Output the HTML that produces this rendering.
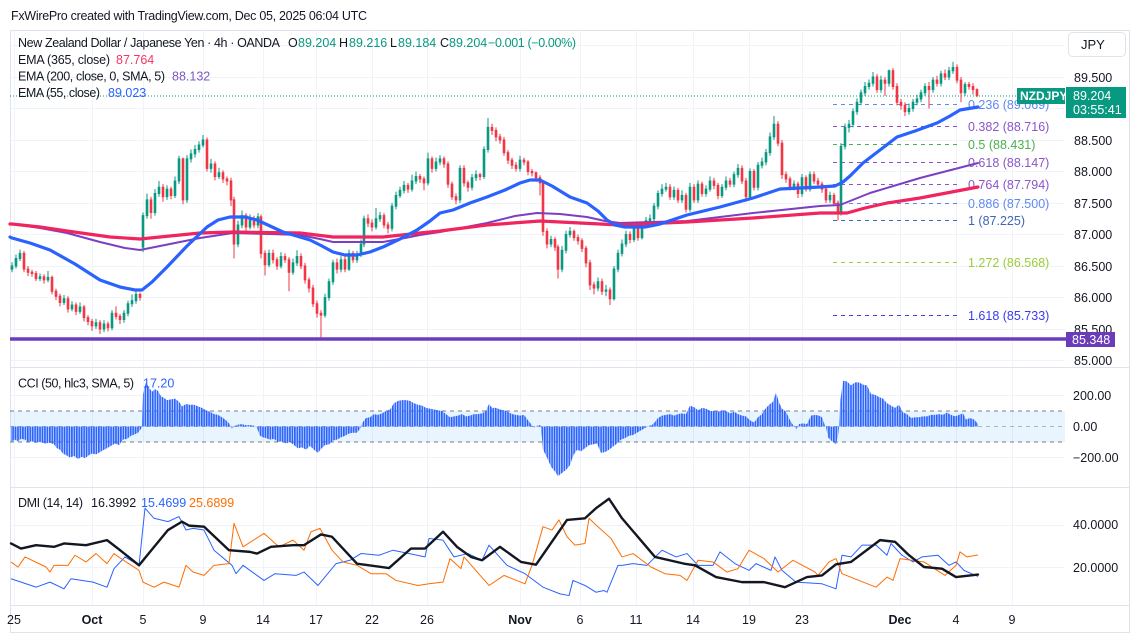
<!DOCTYPE html>
<html><head><meta charset="utf-8">
<style>
html,body{margin:0;padding:0;background:#fff;}
svg{display:block;font-family:"Liberation Sans",Arial,sans-serif;}
</style></head><body>
<svg width="1130" height="637" viewBox="0 0 1130 637" xmlns="http://www.w3.org/2000/svg">
<defs>
<pattern id="bars" x="0" y="0" width="2.45" height="100" patternUnits="userSpaceOnUse"><rect x="0" y="0" width="1.75" height="100" fill="#2962ff"/></pattern>
</defs>
<rect width="1130" height="637" fill="#fff"/>
<text x="11" y="20" font-size="12.5" fill="#131722" textLength="356" lengthAdjust="spacing">FxWirePro created with TradingView.com, Dec 05, 2025 06:04 UTC</text>

<!-- vertical grid -->
<g stroke="#f0f3fa" stroke-width="1">
<line x1="14.5" y1="31" x2="14.5" y2="605"/><line x1="92.5" y1="31" x2="92.5" y2="605"/>
<line x1="143.5" y1="31" x2="143.5" y2="605"/><line x1="203.5" y1="31" x2="203.5" y2="605"/>
<line x1="263.5" y1="31" x2="263.5" y2="605"/><line x1="316.5" y1="31" x2="316.5" y2="605"/>
<line x1="372.5" y1="31" x2="372.5" y2="605"/><line x1="427.5" y1="31" x2="427.5" y2="605"/>
<line x1="520.5" y1="31" x2="520.5" y2="605"/><line x1="580.5" y1="31" x2="580.5" y2="605"/>
<line x1="636.5" y1="31" x2="636.5" y2="605"/><line x1="693.5" y1="31" x2="693.5" y2="605"/>
<line x1="749.5" y1="31" x2="749.5" y2="605"/><line x1="802.5" y1="31" x2="802.5" y2="605"/>
<line x1="900.5" y1="31" x2="900.5" y2="605"/><line x1="956.5" y1="31" x2="956.5" y2="605"/>
<line x1="1012.5" y1="31" x2="1012.5" y2="605"/>
</g>
<!-- horizontal grid -->
<g stroke="#f0f3fa" stroke-width="1">
<line x1="10" y1="45.5" x2="1065" y2="45.5"/><line x1="10" y1="77.5" x2="1065" y2="77.5"/>
<line x1="10" y1="108.5" x2="1065" y2="108.5"/><line x1="10" y1="140.5" x2="1065" y2="140.5"/>
<line x1="10" y1="171.5" x2="1065" y2="171.5"/><line x1="10" y1="203.5" x2="1065" y2="203.5"/>
<line x1="10" y1="234.5" x2="1065" y2="234.5"/><line x1="10" y1="266.5" x2="1065" y2="266.5"/>
<line x1="10" y1="297.5" x2="1065" y2="297.5"/><line x1="10" y1="329.5" x2="1065" y2="329.5"/>
<line x1="10" y1="360.5" x2="1065" y2="360.5"/>
<line x1="10" y1="395.5" x2="1065" y2="395.5"/><line x1="10" y1="457.5" x2="1065" y2="457.5"/>
<line x1="10" y1="525.5" x2="1065" y2="525.5"/><line x1="10" y1="567.5" x2="1065" y2="567.5"/>
</g>
<!-- frame -->
<g stroke="#e0e3eb" stroke-width="1" fill="none">
<line x1="10" y1="30.5" x2="1130" y2="30.5"/>
<line x1="10.5" y1="30" x2="10.5" y2="633"/>
<line x1="10" y1="367.5" x2="1130" y2="367.5"/>
<line x1="10" y1="487.5" x2="1130" y2="487.5"/>
<line x1="10" y1="605.5" x2="1130" y2="605.5"/>
<line x1="10" y1="632.5" x2="1130" y2="632.5"/>
<line x1="1129.5" y1="30" x2="1129.5" y2="633"/>
</g>

<!-- CCI band -->
<rect x="10" y="411" width="1055" height="31" fill="#2196f3" fill-opacity="0.1"/>
<g stroke-width="1" stroke-dasharray="4,4" fill="none">
<line x1="10" y1="411" x2="1065" y2="411" stroke="#787b86"/>
<line x1="10" y1="426.5" x2="1065" y2="426.5" stroke="#b2b5be"/>
<line x1="10" y1="442" x2="1065" y2="442" stroke="#787b86"/>
</g>

<!-- Fib levels -->
<g stroke-width="1" stroke-dasharray="4,4" fill="none">
<line x1="833" y1="104.5" x2="960" y2="104.5" stroke="#5d8af2"/>
<line x1="833" y1="126.5" x2="960" y2="126.5" stroke="#8a55c9"/>
<line x1="833" y1="144.5" x2="960" y2="144.5" stroke="#4caf50"/>
<line x1="833" y1="162.5" x2="960" y2="162.5" stroke="#8a55c9"/>
<line x1="833" y1="184.5" x2="960" y2="184.5" stroke="#8a55c9"/>
<line x1="833" y1="203.5" x2="960" y2="203.5" stroke="#5d8af2"/>
<line x1="833" y1="220.5" x2="960" y2="220.5" stroke="#3f66b4"/>
<line x1="833" y1="262.5" x2="960" y2="262.5" stroke="#9bcc3a"/>
<line x1="833" y1="315.5" x2="960" y2="315.5" stroke="#3a3af0"/>
</g>
<g font-size="12.5">
<text x="968" y="109" fill="#5d8af2">0.236 (89.069)</text>
<text x="968" y="131" fill="#8a55c9">0.382 (88.716)</text>
<text x="968" y="149" fill="#4caf50">0.5 (88.431)</text>
<text x="968" y="167" fill="#8a55c9">0.618 (88.147)</text>
<text x="968" y="189" fill="#8a55c9">0.764 (87.794)</text>
<text x="968" y="208" fill="#5d8af2">0.886 (87.500)</text>
<text x="968" y="225" fill="#3f66b4">1 (87.225)</text>
<text x="968" y="267" fill="#9bcc3a">1.272 (86.568)</text>
<text x="968" y="320" fill="#3a3af0">1.618 (85.733)</text>
</g>

<!-- Candles (price units) -->
<g transform="matrix(1,0,0,-63,0,5715.5)">
<path fill="#089981" stroke="#089981" stroke-width="1" vector-effect="non-scaling-stroke" d="
M11.2 86.45h1.6V86.5h-1.6zM12 86.56V86.4
M15.2 86.5h1.6V86.62h-1.6zM16 86.68V86.46
M19.2 86.62h1.6V86.7h-1.6zM20 86.76V86.58
M39.2 86.3h1.6V86.33h-1.6zM40 86.38V86.26
M47.2 86.28h1.6V86.32h-1.6zM48 86.42V86.24
M63.2 85.92h1.6V85.98h-1.6zM64 86.04V85.88
M71.2 85.82h1.6V85.88h-1.6zM72 85.94V85.78
M79.2 85.78h1.6V85.85h-1.6zM80 85.92V85.74
M95.2 85.55h1.6V85.6h-1.6zM96 85.66V85.5
M103.2 85.5h1.6V85.58h-1.6zM104 85.64V85.45
M111.2 85.52h1.6V85.75h-1.6zM112 85.8V85.48
M123.2 85.65h1.6V85.75h-1.6zM124 85.8V85.6
M127.2 85.75h1.6V85.9h-1.6zM128 85.95V85.7
M131.2 85.9h1.6V85.95h-1.6zM132 86.05V85.85
M135.2 85.95h1.6V86.05h-1.6zM136 86.1V85.9
M142.2 86.8h1.6V87.3h-1.6zM143 87.35V86.72
M146.2 87.3h1.6V87.55h-1.6zM147 87.65V87.25
M154.2 87.35h1.6V87.65h-1.6zM155 87.72V87.3
M158.2 87.65h1.6V87.75h-1.6zM159 87.85V87.6
M166.2 87.6h1.6V87.72h-1.6zM167 87.78V87.55
M174.2 87.62h1.6V87.85h-1.6zM175 87.92V87.58
M178.2 87.85h1.6V88.2h-1.6zM179 88.25V87.8
M186.2 87.55h1.6V88.2h-1.6zM187 88.26V87.5
M190.2 88.2h1.6V88.28h-1.6zM191 88.35V88.14
M194.2 88.28h1.6V88.35h-1.6zM195 88.42V88.22
M198.2 88.35h1.6V88.42h-1.6zM199 88.48V88.3
M202.2 88.42h1.6V88.5h-1.6zM203 88.58V88.38
M210.2 88.05h1.6V88.12h-1.6zM211 88.2V87.98
M218.2 87.92h1.6V87.98h-1.6zM219 88.06V87.88
M237.2 86.85h1.6V87.15h-1.6zM238 87.22V86.8
M241.2 87.15h1.6V87.3h-1.6zM242 87.38V87.1
M249.2 87.12h1.6V87.25h-1.6zM250 87.32V87.08
M257.2 87.15h1.6V87.28h-1.6zM258 87.34V87.1
M268.2 86.52h1.6V86.7h-1.6zM269 86.76V86.48
M280.2 86.5h1.6V86.65h-1.6zM281 86.72V86.46
M292.2 86.4h1.6V86.55h-1.6zM293 86.62V86.36
M296.2 86.55h1.6V86.65h-1.6zM297 86.75V86.5
M324.2 85.72h1.6V86h-1.6zM325 86.06V85.68
M328.2 86h1.6V86.25h-1.6zM329 86.3V85.95
M332.2 86.25h1.6V86.55h-1.6zM333 86.6V86.2
M340.2 86.45h1.6V86.6h-1.6zM341 86.66V86.4
M348.2 86.45h1.6V86.7h-1.6zM349 86.76V86.42
M356.2 86.6h1.6V86.68h-1.6zM357 86.74V86.55
M360.2 86.68h1.6V86.85h-1.6zM361 86.92V86.64
M363.2 86.85h1.6V87.25h-1.6zM364 87.3V86.8
M375.2 87.12h1.6V87.25h-1.6zM376 87.42V87.08
M379.2 87.25h1.6V87.3h-1.6zM380 87.36V87.2
M391.2 87.1h1.6V87.45h-1.6zM392 87.5V87.05
M395.2 87.45h1.6V87.62h-1.6zM396 87.68V87.4
M399.2 87.62h1.6V87.7h-1.6zM400 87.76V87.58
M403.2 87.7h1.6V87.78h-1.6zM404 87.85V87.65
M411.2 87.72h1.6V87.85h-1.6zM412 87.95V87.68
M415.2 87.85h1.6V87.92h-1.6zM416 88V87.8
M427.2 87.82h1.6V88.2h-1.6zM428 88.3V87.78
M435.2 88.05h1.6V88.15h-1.6zM436 88.22V88
M439.2 88.15h1.6V88.2h-1.6zM440 88.26V88.1
M459.2 87.55h1.6V88.05h-1.6zM460 88.1V87.5
M471.2 87.75h1.6V87.9h-1.6zM472 87.96V87.7
M475.2 87.9h1.6V87.95h-1.6zM476 88.02V87.85
M483.2 87.92h1.6V88.35h-1.6zM484 88.4V87.88
M487.2 88.35h1.6V88.7h-1.6zM488 88.85V88.3
M519.2 88.05h1.6V88.18h-1.6zM520 88.25V88
M550.2 86.85h1.6V86.92h-1.6zM551 86.98V86.8
M561.2 86.45h1.6V86.75h-1.6zM562 86.82V86.4
M565.2 86.75h1.6V87h-1.6zM566 87.06V86.7
M569.2 87h1.6V87.05h-1.6zM570 87.12V86.95
M597.2 86.15h1.6V86.25h-1.6zM598 86.32V86.1
M605.2 86.1h1.6V86.12h-1.6zM606 86.2V86.02
M613.2 85.98h1.6V86.45h-1.6zM614 86.5V85.95
M617.2 86.45h1.6V86.7h-1.6zM618 86.76V86.4
M621.2 86.7h1.6V86.85h-1.6zM622 86.92V86.65
M625.2 86.85h1.6V87h-1.6zM626 87.06V86.8
M633.2 86.92h1.6V87.1h-1.6zM634 87.16V86.88
M641.2 86.95h1.6V87.15h-1.6zM642 87.2V86.92
M645.2 87.15h1.6V87.22h-1.6zM646 87.28V87.1
M649.2 87.22h1.6V87.25h-1.6zM650 87.32V87.18
M653.2 87.25h1.6V87.45h-1.6zM654 87.5V87.2
M657.2 87.45h1.6V87.65h-1.6zM658 87.7V87.4
M661.2 87.65h1.6V87.72h-1.6zM662 87.8V87.6
M665.2 87.72h1.6V87.75h-1.6zM666 87.82V87.68
M673.2 87.6h1.6V87.7h-1.6zM674 87.76V87.55
M681.2 87.55h1.6V87.62h-1.6zM682 87.7V87.5
M689.2 87.4h1.6V87.75h-1.6zM690 87.82V87.36
M697.2 87.55h1.6V87.8h-1.6zM698 87.86V87.5
M705.2 87.65h1.6V87.72h-1.6zM706 87.78V87.6
M709.2 87.72h1.6V87.85h-1.6zM710 87.92V87.68
M721.2 87.62h1.6V87.75h-1.6zM722 87.8V87.58
M725.2 87.75h1.6V87.85h-1.6zM726 87.92V87.7
M733.2 87.8h1.6V87.95h-1.6zM734 88V87.75
M737.2 87.95h1.6V88.05h-1.6zM738 88.12V87.9
M749.2 87.6h1.6V88h-1.6zM750 88.05V87.55
M757.2 87.75h1.6V88.1h-1.6zM758 88.15V87.7
M761.2 88.1h1.6V88.15h-1.6zM762 88.22V88.05
M765.2 88.15h1.6V88.3h-1.6zM766 88.36V88.1
M769.2 88.3h1.6V88.55h-1.6zM770 88.62V88.25
M773.2 88.55h1.6V88.75h-1.6zM774 88.88V88.5
M793.2 87.75h1.6V87.8h-1.6zM794 87.86V87.7
M801.2 87.65h1.6V87.9h-1.6zM802 87.96V87.6
M809.2 87.72h1.6V87.95h-1.6zM810 88V87.68
M829.2 87.55h1.6V87.62h-1.6zM830 87.68V87.5
M840.2 87.35h1.6V88.4h-1.6zM841 88.45V87.3
M844.2 88.4h1.6V88.7h-1.6zM845 88.76V88.35
M848.2 88.7h1.6V88.75h-1.6zM849 88.82V88.62
M852.2 88.75h1.6V88.95h-1.6zM853 89V88.7
M856.2 88.95h1.6V89.1h-1.6zM857 89.16V88.9
M860.2 89.1h1.6V89.25h-1.6zM861 89.3V89.05
M864.2 89.25h1.6V89.35h-1.6zM865 89.42V89.2
M868.2 89.35h1.6V89.4h-1.6zM869 89.46V89.3
M872.2 89.4h1.6V89.5h-1.6zM873 89.58V89.35
M880.2 89.3h1.6V89.45h-1.6zM881 89.52V89.25
M888.2 89.4h1.6V89.6h-1.6zM889 89.62V89.35
M908.2 88.95h1.6V89h-1.6zM909 89.08V88.9
M912.2 89h1.6V89.1h-1.6zM913 89.15V88.95
M916.2 89.1h1.6V89.15h-1.6zM917 89.22V89.05
M920.2 89.15h1.6V89.25h-1.6zM921 89.3V89.1
M924.2 89.25h1.6V89.35h-1.6zM925 89.4V89.2
M932.2 89.3h1.6V89.45h-1.6zM933 89.5V89.25
M940.2 89.4h1.6V89.55h-1.6zM941 89.6V89.35
M948.2 89.5h1.6V89.6h-1.6zM949 89.66V89.45
M952.2 89.6h1.6V89.65h-1.6zM953 89.74V89.55
M964.2 89.25h1.6V89.38h-1.6zM965 89.42V89.2"/>
<path fill="#f23645" stroke="#f23645" stroke-width="1" vector-effect="non-scaling-stroke" d="
M23.2 86.7h1.6V86.45h-1.6zM24 86.74V86.4
M27.2 86.45h1.6V86.4h-1.6zM28 86.5V86.34
M31.2 86.4h1.6V86.38h-1.6zM32 86.44V86.33
M35.2 86.38h1.6V86.3h-1.6zM36 86.42V86.26
M43.2 86.33h1.6V86.28h-1.6zM44 86.37V86.22
M51.2 86.32h1.6V86.1h-1.6zM52 86.35V86.05
M55.2 86.1h1.6V86.02h-1.6zM56 86.14V85.96
M59.2 86.02h1.6V85.92h-1.6zM60 86.06V85.86
M67.2 85.98h1.6V85.82h-1.6zM68 86.02V85.76
M75.2 85.88h1.6V85.78h-1.6zM76 85.92V85.72
M83.2 85.85h1.6V85.68h-1.6zM84 85.88V85.62
M87.2 85.68h1.6V85.62h-1.6zM88 85.72V85.56
M91.2 85.62h1.6V85.55h-1.6zM92 85.66V85.47
M99.2 85.6h1.6V85.5h-1.6zM100 85.64V85.42
M107.2 85.58h1.6V85.52h-1.6zM108 85.62V85.46
M115.2 85.75h1.6V85.7h-1.6zM116 85.86V85.65
M119.2 85.7h1.6V85.65h-1.6zM120 85.74V85.58
M139.2 86.05h1.6V86h-1.6zM140 86.08V85.95
M150.2 87.55h1.6V87.35h-1.6zM151 87.6V87.25
M162.2 87.75h1.6V87.6h-1.6zM163 87.8V87.52
M170.2 87.72h1.6V87.62h-1.6zM171 87.76V87.56
M182.2 88.2h1.6V87.55h-1.6zM183 88.22V87.48
M206.2 88.5h1.6V88.05h-1.6zM207 88.54V88
M214.2 88.12h1.6V87.92h-1.6zM215 88.16V87.86
M222.2 87.98h1.6V87.88h-1.6zM223 88.02V87.82
M226.2 87.88h1.6V87.85h-1.6zM227 87.92V87.78
M230.2 87.85h1.6V87.55h-1.6zM231 87.9V87.45
M233.2 87.55h1.6V86.85h-1.6zM234 87.6V86.62
M245.2 87.3h1.6V87.12h-1.6zM246 87.34V87.06
M253.2 87.25h1.6V87.15h-1.6zM254 87.3V87.1
M260.2 87.28h1.6V86.7h-1.6zM261 87.32V86.62
M264.2 86.7h1.6V86.52h-1.6zM265 86.75V86.35
M272.2 86.7h1.6V86.6h-1.6zM273 86.76V86.54
M276.2 86.6h1.6V86.5h-1.6zM277 86.64V86.44
M284.2 86.65h1.6V86.6h-1.6zM285 86.7V86.55
M288.2 86.6h1.6V86.4h-1.6zM289 86.64V86.1
M300.2 86.65h1.6V86.5h-1.6zM301 86.7V86.45
M304.2 86.5h1.6V86.28h-1.6zM305 86.55V86.22
M308.2 86.28h1.6V86.15h-1.6zM309 86.32V86.08
M312.2 86.15h1.6V85.9h-1.6zM313 86.2V85.85
M316.2 85.9h1.6V85.75h-1.6zM317 85.95V85.68
M320.2 85.75h1.6V85.72h-1.6zM321 85.8V85.35
M336.2 86.55h1.6V86.45h-1.6zM337 86.62V86.38
M344.2 86.6h1.6V86.45h-1.6zM345 86.65V86.4
M352.2 86.7h1.6V86.6h-1.6zM353 86.74V86.55
M367.2 87.25h1.6V87.18h-1.6zM368 87.32V87.12
M371.2 87.18h1.6V87.12h-1.6zM372 87.24V87.05
M383.2 87.3h1.6V87.15h-1.6zM384 87.34V87.1
M387.2 87.15h1.6V87.1h-1.6zM388 87.2V87.02
M407.2 87.78h1.6V87.72h-1.6zM408 87.82V87.66
M419.2 87.92h1.6V87.88h-1.6zM420 87.96V87.82
M423.2 87.88h1.6V87.82h-1.6zM424 87.92V87.7
M431.2 88.2h1.6V88.05h-1.6zM432 88.24V87.98
M443.2 88.2h1.6V88.12h-1.6zM444 88.24V88.06
M447.2 88.12h1.6V87.8h-1.6zM448 88.16V87.74
M451.2 87.8h1.6V87.6h-1.6zM452 87.84V87.55
M455.2 87.6h1.6V87.55h-1.6zM456 87.65V87.48
M463.2 88.05h1.6V87.82h-1.6zM464 88.1V87.76
M467.2 87.82h1.6V87.75h-1.6zM468 87.86V87.68
M479.2 87.95h1.6V87.92h-1.6zM480 87.98V87.86
M491.2 88.7h1.6V88.65h-1.6zM492 88.76V88.58
M495.2 88.65h1.6V88.55h-1.6zM496 88.7V88.48
M499.2 88.55h1.6V88.5h-1.6zM500 88.6V88.44
M503.2 88.5h1.6V88.3h-1.6zM504 88.55V88.25
M507.2 88.3h1.6V88.18h-1.6zM508 88.34V88.12
M511.2 88.18h1.6V88.1h-1.6zM512 88.22V88.04
M515.2 88.1h1.6V88.05h-1.6zM516 88.15V88
M523.2 88.18h1.6V88.15h-1.6zM524 88.22V88.1
M527.2 88.15h1.6V88h-1.6zM528 88.18V87.94
M531.2 88h1.6V87.98h-1.6zM532 88.04V87.92
M535.2 87.98h1.6V87.9h-1.6zM536 88V87.84
M539.2 87.9h1.6V87.82h-1.6zM540 87.94V87.62
M542.2 87.82h1.6V87.05h-1.6zM543 87.86V86.98
M546.2 87.05h1.6V86.85h-1.6zM547 87.1V86.78
M554.2 86.92h1.6V86.8h-1.6zM555 86.96V86.74
M557.2 86.8h1.6V86.45h-1.6zM558 86.84V86.3
M573.2 87.05h1.6V86.95h-1.6zM574 87.08V86.9
M577.2 86.95h1.6V86.9h-1.6zM578 87V86.84
M581.2 86.9h1.6V86.78h-1.6zM582 86.94V86.72
M585.2 86.78h1.6V86.55h-1.6zM586 86.82V86.48
M589.2 86.55h1.6V86.2h-1.6zM590 86.6V86.12
M593.2 86.2h1.6V86.15h-1.6zM594 86.25V86.05
M601.2 86.25h1.6V86.1h-1.6zM602 86.3V86.04
M609.2 86.12h1.6V85.98h-1.6zM610 86.16V85.88
M629.2 87h1.6V86.92h-1.6zM630 87.05V86.86
M637.2 87.1h1.6V86.95h-1.6zM638 87.14V86.9
M669.2 87.75h1.6V87.6h-1.6zM670 87.8V87.55
M677.2 87.7h1.6V87.55h-1.6zM678 87.74V87.5
M685.2 87.62h1.6V87.4h-1.6zM686 87.66V87.35
M693.2 87.75h1.6V87.55h-1.6zM694 87.8V87.5
M701.2 87.8h1.6V87.65h-1.6zM702 87.84V87.6
M713.2 87.85h1.6V87.78h-1.6zM714 87.9V87.72
M717.2 87.78h1.6V87.62h-1.6zM718 87.82V87.56
M729.2 87.85h1.6V87.8h-1.6zM730 87.9V87.75
M741.2 88.05h1.6V87.85h-1.6zM742 88.1V87.8
M745.2 87.85h1.6V87.6h-1.6zM746 87.9V87.52
M753.2 88h1.6V87.75h-1.6zM754 88.04V87.7
M777.2 88.75h1.6V88.45h-1.6zM778 88.8V88.4
M781.2 88.45h1.6V87.95h-1.6zM782 88.5V87.88
M785.2 87.95h1.6V87.88h-1.6zM786 88V87.82
M789.2 87.88h1.6V87.75h-1.6zM790 87.92V87.7
M797.2 87.8h1.6V87.65h-1.6zM798 87.84V87.58
M805.2 87.9h1.6V87.72h-1.6zM806 87.94V87.68
M813.2 87.95h1.6V87.85h-1.6zM814 88V87.8
M817.2 87.85h1.6V87.8h-1.6zM818 87.9V87.75
M821.2 87.8h1.6V87.72h-1.6zM822 87.84V87.66
M825.2 87.72h1.6V87.55h-1.6zM826 87.76V87.5
M833.2 87.62h1.6V87.5h-1.6zM834 87.66V87.45
M837.2 87.5h1.6V87.35h-1.6zM838 87.54V87.22
M876.2 89.5h1.6V89.3h-1.6zM877 89.55V89.25
M884.2 89.45h1.6V89.4h-1.6zM885 89.5V89.2
M892.2 89.6h1.6V89.35h-1.6zM893 89.64V89.3
M896.2 89.35h1.6V89.1h-1.6zM897 89.4V89.05
M900.2 89.1h1.6V89.05h-1.6zM901 89.15V88.98
M904.2 89.05h1.6V88.95h-1.6zM905 89.1V88.88
M928.2 89.35h1.6V89.3h-1.6zM929 89.42V89
M936.2 89.45h1.6V89.4h-1.6zM937 89.52V89.35
M944.2 89.55h1.6V89.5h-1.6zM945 89.62V89.45
M956.2 89.65h1.6V89.45h-1.6zM957 89.7V89.4
M960.2 89.45h1.6V89.25h-1.6zM961 89.5V89.1
M968.2 89.38h1.6V89.35h-1.6zM969 89.42V89.3
M972.2 89.35h1.6V89.3h-1.6zM973 89.4V89.22
M976.2 89.3h1.6V89.204h-1.6zM977 89.32V89.18"/>
</g>

<!-- CCI histogram (value units) -->
<g transform="matrix(1,0,0,-0.155,0,426.5)">
<polygon fill="url(#bars)" points="11,0 11,-100 15,-85 18,-95 21,-80 25,-85 28,-100 32,-95 35,-105 40,-100 45,-110 50,-105 54,-115 57,-140 60,-150 63,-175 66,-185 70,-200 74,-190 78,-210 82,-195 85,-205 89,-185 92,-175 96,-180 100,-165 104,-150 107,-140 111,-125 115,-110 119,-120 123,-85 127,-80 131,-60 135,-50 138,-40 141,-15 142,0 143,210 146,285 149,250 152,225 155,240 158,230 161,195 164,185 167,170 171,175 175,180 179,160 182,130 186,145 190,140 194,140 198,130 202,120 206,105 210,95 214,80 218,75 222,60 226,40 229,20 231,0 232,-15 234,0 235,5 238,12 242,15 246,8 250,10 254,5 256,0 257,-10 260,-60 263,-70 266,-75 270,-85 274,-80 278,-100 282,-95 286,-110 290,-100 294,-120 298,-140 302,-135 306,-150 310,-125 314,-150 318,-170 321,-145 325,-120 329,-115 333,-90 337,-85 341,-70 345,-60 349,-45 353,-40 357,-40 360,-15 361,0 363,30 366,55 370,60 374,80 378,75 382,85 386,100 390,110 394,150 398,165 402,170 406,170 410,165 414,150 418,140 422,135 426,120 430,115 434,110 438,105 442,100 446,80 450,60 454,65 458,70 462,80 466,65 470,70 474,80 478,80 482,85 486,100 489,145 492,120 496,120 500,110 504,105 508,95 512,80 516,75 520,70 524,75 528,40 531,15 533,0 534,-10 535,0 537,5 540,10 541,0 543,-150 547,-200 551,-260 555,-290 558,-320 562,-300 566,-280 570,-250 573,-190 577,-150 581,-160 585,-140 589,-120 593,-115 597,-110 601,-170 605,-165 609,-150 613,-130 617,-110 621,-85 625,-75 629,-60 633,-55 637,-40 641,-25 645,-10 648,0 649,5 652,10 655,30 658,55 662,70 666,75 670,80 674,70 678,80 682,85 686,80 690,135 694,125 698,105 702,120 706,115 710,100 714,100 718,95 722,105 726,100 730,85 734,95 738,80 742,70 746,65 750,40 754,25 758,60 762,80 766,120 770,145 773,160 776,220 779,155 782,115 786,95 790,40 793,10 795,0 796,-20 798,0 799,15 803,20 807,15 811,70 815,75 819,70 822,60 825,5 826,0 828,-70 832,-95 836,-115 838,-60 839,0 840,150 843,295 847,290 851,265 855,285 859,285 863,270 867,265 871,210 875,205 879,190 883,180 887,150 891,135 895,120 899,140 903,90 907,80 911,55 915,60 919,60 923,65 927,65 931,75 935,75 939,80 943,75 947,90 951,75 955,65 959,75 963,85 966,45 970,55 974,45 978,17 978,0"/>
</g>

<!-- EMAs -->
<polyline fill="none" stroke="#7b3fc4" stroke-width="2" stroke-linejoin="round" stroke-linecap="round" points="10,224 12,224 40,228 67,233 100,242 125,248 140,250 160,246 200,238 233,233 270,234 300,235 320,239 333,242 383,242 405,238 420,235 440,232 487,223 515,216 537,213 560,214 587,217 605,221 620,223 687,221 753,213 820,206 840,205 855,199 870,193 920,178 978,163"/>
<polyline fill="none" stroke="#f0245e" stroke-width="3.2" stroke-linejoin="round" stroke-linecap="round" points="10,224 12,224 40,227 67,231 110,237 140,239 170,236 200,233 233,232 300,233 333,237 383,237 420,233 440,231 487,225 540,221 580,223 620,225 687,222 753,218 820,213 847,213 865,208 887,203 920,198 978,187"/>
<polyline fill="none" stroke="#2962ff" stroke-width="3.2" stroke-linejoin="round" stroke-linecap="round" points="10,237 12,238 30,243 50,250 75,264 100,280 120,287 135,290 142,290 152,282 167,267 187,246 207,227 218,220 230,217 245,217 257,220 270,226 283,232 310,240 322,246 333,252 345,255 357,255 370,252 383,247 400,239 417,230 430,221 440,213 453,210 470,203 487,197 505,190 520,183 530,180 540,180 552,186 570,197 587,203 598,211 607,220 615,225 625,227 645,227 660,224 687,215 720,207 753,198 780,189 800,188 820,187 835,186 843,182 850,176 863,163 880,150 897,137 915,131 937,123 950,116 960,110 978,107"/>

<!-- horizontal level -->
<line x1="10" y1="339" x2="1066" y2="339" stroke="#6c3cc0" stroke-width="3.5"/>
<!-- current price dotted -->
<line x1="10" y1="96" x2="1017" y2="96" stroke="#089981" stroke-width="1" stroke-dasharray="1,2"/>

<!-- DMI (value units) -->
<g transform="matrix(1,0,0,-2.1,0,609)" fill="none" stroke-linejoin="round">
<polyline vector-effect="non-scaling-stroke" stroke="#2962ff" stroke-width="1" points="11,14.4 36,10.4 50,12.8 64,9.6 71,14.4 93,12.8 107,10.4 114,19.2 125,24.8 139,20.8 145,48 154,43.2 168,41.6 179,44 186,37.6 193,38.4 204,37.6 214,28 232,20.8 236,16.8 243,20.8 264,13.6 275,16.8 296,16 304,17.6 318,11.2 336,21.6 350,23.2 361,26.4 379,25.6 393,28 425,24.8 429,33.6 443,32.8 454,24.8 468,26.4 482,23.2 489,30.4 507,20.8 525,16.8 543,10.4 560,7.2 569,6.4 573,13.6 585,11.2 596,8 604,8.8 607,8 618,20.8 622,20.8 633,21.6 647,20.8 662,28 676,24.8 687,26.4 698,20.8 713,20.8 720,27.2 735,21.6 749,18.4 756,21.6 771,18.4 775,24.8 782,18.4 796,12.8 822,12 836,9.6 842,25.6 851,24.8 862,30.4 876,30.4 887,25.6 891,31.2 902,25.6 913,22.4 922,24.8 938,25.6 949,20.8 956,22.4 964,18.4 978,15.5"/>
<polyline vector-effect="non-scaling-stroke" stroke="#ff6d00" stroke-width="1" points="11,22.4 18,20 25,24.8 46,20 50,17.6 54,20.8 68,20.8 75,25.6 86,22.4 96,26.4 107,21.6 114,26.4 121,24 139,18.4 143,12.8 154,10.4 164,12.8 179,10.4 186,20.8 193,17.6 204,16 214,20.8 229,21.6 234,40.8 243,29.6 264,36 279,29.6 293,32.8 304,28 311,36.8 320,38.4 332,28 343,22.4 357,20.8 371,16.8 386,16.8 396,13.6 418,11.2 429,12 443,12.8 450,24 461,19.2 464,24.8 489,11.2 504,16 525,12 532,20.8 543,39.2 552,37.6 559,42.4 567,34.4 575,30.4 585,31.2 589,43.2 596,40 611,33.6 622,24.8 633,26.4 651,20 665,16.8 680,16 687,13.6 698,23.2 713,22.4 727,17.6 738,19.2 749,28 764,24 778,17.6 793,23.2 815,17.6 818,16 829,22.4 836,24 842,16.8 876,10.4 887,15.2 893,13.6 900,24 924,22.4 945,16 956,20.8 960,27.2 967,24.8 978,25.7"/>
<polyline vector-effect="non-scaling-stroke" stroke="#131722" stroke-width="2.4" stroke-linecap="round" points="11,31.2 21,28.8 36,30.4 54,29.6 64,31.2 86,30.4 107,32.8 118,28.8 139,20.8 150,27.2 168,37.6 182,41.6 189,39.7 204,39.2 229,28 250,27.2 257,26.4 271,29.6 293,30.4 304,30.4 321,35.5 332,34.4 357,21.6 389,19.5 411,28.8 425,28.8 443,36.8 457,29.6 471,24.8 482,23.2 500,29.6 521,22.4 536,21.1 560,37.6 567,42.4 585,43.2 596,48 609,52.5 622,43.2 655,24.8 684,21.6 695,20.8 716,15.2 742,12.8 764,12.8 785,10.4 807,15.2 822,16 836,21.3 851,22.4 880,32.8 895,32 909,25.6 924,20 942,19.2 956,15.2 978,16.4"/>
</g>

<!-- Legends -->
<g font-size="12.5">
<text x="18" y="47" fill="#131722" textLength="262" lengthAdjust="spacing">New Zealand Dollar / Japanese Yen · 4h · OANDA</text>
<text x="288" y="47" fill="#131722">O</text><text x="298" y="47" fill="#089981">89.204</text>
<text x="339" y="47" fill="#131722">H</text><text x="349" y="47" fill="#089981">89.216</text>
<text x="390" y="47" fill="#131722">L</text><text x="398" y="47" fill="#089981">89.184</text>
<text x="440" y="47" fill="#131722">C</text><text x="449" y="47" fill="#089981">89.204</text>
<text x="488" y="47" fill="#089981" textLength="88" lengthAdjust="spacing">−0.001 (−0.00%)</text>
<text x="18" y="64" fill="#131722" textLength="92" lengthAdjust="spacing">EMA (365, close)</text><text x="116" y="64" fill="#f23661">87.764</text>
<text x="18" y="80.5" fill="#131722" textLength="147" lengthAdjust="spacing">EMA (200, close, 0, SMA, 5)</text><text x="172" y="80.5" fill="#7e57c2">88.132</text>
<text x="18" y="97" fill="#131722" textLength="82" lengthAdjust="spacing">EMA (55, close)</text><text x="108" y="97" fill="#2962ff">89.023</text>
<text x="18" y="387.5" fill="#131722" textLength="116" lengthAdjust="spacing">CCI (50, hlc3, SMA, 5)</text><text x="143" y="387.5" fill="#2962ff">17.20</text>
<text x="18" y="507" fill="#131722" textLength="65" lengthAdjust="spacing">DMI (14, 14)</text><text x="91" y="507" fill="#131722">16.3992</text>
<text x="141" y="507" fill="#2962ff">15.4699</text><text x="189" y="507" fill="#ff6d00">25.6899</text>
</g>

<!-- Right axis -->
<g font-size="12.5" fill="#131722">
<text x="1074" y="82">89.500</text>
<text x="1074" y="145">88.500</text>
<text x="1074" y="176">88.000</text>
<text x="1074" y="208">87.500</text>
<text x="1074" y="239">87.000</text>
<text x="1074" y="271">86.500</text>
<text x="1074" y="302">86.000</text>
<text x="1074" y="334">85.500</text>
<text x="1074" y="365">85.000</text>
<text x="1073" y="400">200.00</text>
<text x="1073" y="431">0.00</text>
<text x="1073" y="462">−200.00</text>
<text x="1073" y="529">40.0000</text>
<text x="1073" y="572">20.0000</text>
</g>
<rect x="1068.5" y="32.5" width="57" height="24" rx="4" fill="#fff" stroke="#e0e3eb"/>
<text x="1081" y="49" font-size="13" fill="#131722">JPY</text>

<rect x="1017" y="88" width="48" height="16" fill="#089981"/>
<text x="1020" y="100" font-size="12" fill="#fff" font-weight="bold">NZDJPY</text>
<rect x="1066" y="87" width="60" height="31" fill="#089981"/>
<text x="1073" y="100" font-size="12.5" fill="#fff">89.204</text>
<text x="1073" y="114" font-size="12.5" fill="#fff">03:55:41</text>
<rect x="1066" y="332" width="49" height="15" fill="#6a3cb8"/>
<text x="1072" y="344" font-size="12.5" fill="#fff">85.348</text>

<!-- X axis -->
<g font-size="12.5" fill="#131722" text-anchor="middle">
<text x="14" y="624">25</text>
<text x="92" y="624" font-weight="bold">Oct</text>
<text x="143" y="624">5</text>
<text x="203" y="624">9</text>
<text x="263" y="624">14</text>
<text x="316" y="624">17</text>
<text x="372" y="624">22</text>
<text x="427" y="624">26</text>
<text x="520" y="624" font-weight="bold">Nov</text>
<text x="580" y="624">6</text>
<text x="636" y="624">11</text>
<text x="693" y="624">14</text>
<text x="749" y="624">19</text>
<text x="802" y="624">23</text>
<text x="900" y="624" font-weight="bold">Dec</text>
<text x="956" y="624">4</text>
<text x="1012" y="624">9</text>
</g>
</svg>
</body></html>
